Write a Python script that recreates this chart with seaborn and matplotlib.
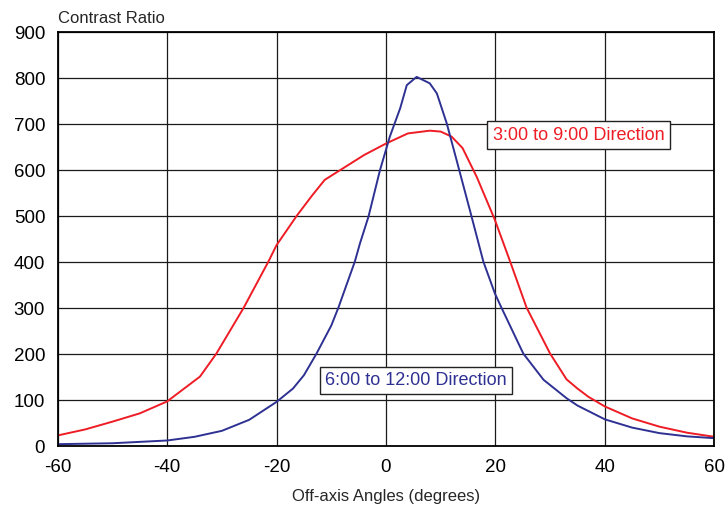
import matplotlib
matplotlib.use("Agg")
import matplotlib.pyplot as plt
import seaborn as sns
import pandas as pd

# Data
red_angles = [-60, -55, -50, -45, -40, -34, -31, -26, -21.5, -20, -16.3, -13.5, -11.2, -8, -4,
              0, 4, 8, 10, 12, 14, 16.6, 19.9, 22.7, 25.7, 30, 33, 35, 37, 40, 45, 50, 55, 60]
red_values = [23, 36, 53, 71, 97, 151, 201, 301, 401, 437, 501, 545, 579, 603, 633,
              658, 680, 686, 684, 673, 648, 585, 492, 401, 301, 201, 145, 125, 107, 86, 60, 42, 29, 20]

blue_angles = [-60, -50, -40, -35, -30, -25, -20, -17, -15, -12.7, -10, -8.7, -5.7, -4.75, -3.2, -1.1,
               0.7, 2.6, 3.8, 5.6, 8.0, 9.3, 11.1, 12.9, 15.4, 17.8, 19.9, 21.1, 25.1, 28.8, 33,
               35, 40, 45, 50, 55, 60]
blue_values = [4, 6, 12, 20, 33, 57, 96, 125, 154, 201, 262, 301, 401, 441, 499, 600,
               673, 735, 785, 803, 789, 767, 702, 622, 510, 401, 332, 301, 201, 144, 104,
               88, 58, 40, 28, 21, 17]

series_names = ["3:00 to 9:00 Direction", "6:00 to 12:00 Direction"]
x_ticks = [-60, -40, -20, 0, 20, 40, 60]
y_ticks = [0, 100, 200, 300, 400, 500, 600, 700, 800, 900]

df = pd.concat([
    pd.DataFrame({"angle": red_angles, "cr": red_values, "dir": series_names[0]}),
    pd.DataFrame({"angle": blue_angles, "cr": blue_values, "dir": series_names[1]}),
])

sns.set_style("white")
plt.rcParams["font.family"] = ["Liberation Sans", "DejaVu Sans"]
plt.rcParams["axes.unicode_minus"] = False

fig = plt.figure(figsize=(7.25, 5.07), dpi=100)
ax = fig.add_axes([0.0796, 0.1203, 0.9056, 0.816])

palette = {series_names[0]: "#ee1c25", series_names[1]: "#2e3192"}
sns.lineplot(data=df, x="angle", y="cr", hue="dir", palette=palette, ax=ax,
             linewidth=1.4, legend=False, sort=False, estimator=None)

ax.set_xlim(-60, 60)
ax.set_ylim(0, 900)
ax.set_xticks(x_ticks)
ax.set_yticks(y_ticks)
ax.grid(True, color="#1a1a1a", linewidth=0.9)
ax.set_axisbelow(True)
for s in ax.spines.values():
    s.set_visible(True)
    s.set_color("black")
    s.set_linewidth(1.3)
ax.tick_params(axis="both", length=0, labelsize=13.5, colors="black", pad=9)

ax.set_xlabel("Off-axis Angles (degrees)", fontsize=12, labelpad=10)
ax.set_ylabel("")
fig.text(0.0796, 0.964, "Contrast Ratio", fontsize=12, ha="left", va="center")

ax.text(19.5, 676, series_names[0], color="#ee1c25", fontsize=13, ha="left", va="center",
        bbox=dict(boxstyle="square,pad=0.3", facecolor="white", edgecolor="#222222", linewidth=1))
ax.text(-11.15, 142.5, series_names[1], color="#2e3192", fontsize=13, ha="left", va="center",
        bbox=dict(boxstyle="square,pad=0.3", facecolor="white", edgecolor="#222222", linewidth=1))

fig.savefig("out.png", dpi=100)
